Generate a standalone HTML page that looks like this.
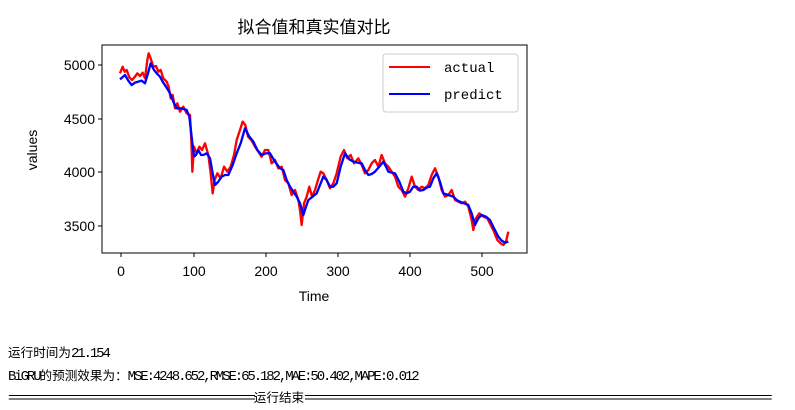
<!DOCTYPE html>
<html><head><meta charset="utf-8"><style>
body{margin:0;background:#fff;width:795px;height:410px;overflow:hidden;position:relative}
.t{position:absolute;left:8px;font-family:"Liberation Mono",monospace;font-size:14px;letter-spacing:-2.1px;white-space:nowrap;color:#000;line-height:16px}
.t b{font-weight:normal;font-family:"Noto Sans CJK SC","WenQuanYi Zen Hei",sans-serif;font-size:12.6px;letter-spacing:0;display:inline-block;width:12.6px;text-align:center}
</style></head><body>
<svg width="795" height="330" style="position:absolute;left:0;top:0" font-family="'Liberation Sans','Noto Sans CJK SC',sans-serif">
<text x="314" y="33" font-size="17" text-anchor="middle">拟合值和真实值对比</text>
<g transform="translate(90,40) scale(0.33333)" fill="none" stroke-linejoin="round">
<polyline stroke="#f00" stroke-width="7" points="90,100 98,80 104,95 110,90 118,112 126,120 135,110 142,100 150,108 158,98 165,115 172,60 176,40 182,55 190,80 198,78 205,95 212,90 220,115 230,125 236,140 242,175 248,165 255,205 262,190 270,215 280,200 290,220 300,225 304,300 307,395 312,320 320,340 328,320 336,330 345,310 355,345 362,400 368,460 374,420 382,400 392,415 402,380 412,395 422,380 432,345 440,300 450,270 458,245 466,255 474,290 484,300 495,320 505,335 515,350 525,330 535,330 545,370 555,360 565,385 575,380 585,420 595,430 605,465 615,450 625,480 630,510 635,555 642,490 650,470 658,440 666,470 675,450 684,420 692,395 700,400 710,420 720,445 730,430 740,400 752,350 762,330 772,355 782,345 792,370 805,355 815,375 825,400 835,390 845,370 855,360 865,380 875,345 885,370 895,380 905,395 915,410 925,440 935,450 945,470 955,445 965,410 975,440 985,450 995,440 1005,445 1015,435 1025,405 1035,385 1045,410 1055,450 1065,470 1075,465 1085,450 1095,480 1105,485 1115,490 1125,485 1135,500 1145,540 1150,570 1158,535 1168,520 1180,530 1192,535 1202,555 1212,575 1222,600 1232,610 1240,615 1248,605 1255,575"/>
<polyline stroke="#00f" stroke-width="7" points="90,118 105,105 115,122 125,135 135,128 145,125 155,122 165,130 174,100 182,70 192,90 200,100 210,110 218,125 228,140 240,160 250,185 260,205 275,205 290,210 298,230 306,300 312,350 318,345 325,330 333,345 340,345 350,340 360,355 368,400 375,435 385,425 395,410 405,405 415,405 428,375 440,340 452,310 465,265 478,290 490,305 502,330 515,345 528,340 540,340 555,365 570,385 580,390 590,420 600,440 610,455 620,470 630,490 640,525 648,500 655,480 668,470 680,460 690,435 700,410 710,420 720,440 730,440 740,430 752,380 765,340 778,358 790,365 803,368 815,370 825,390 835,405 845,402 855,395 868,380 880,365 888,380 895,395 905,398 915,400 928,425 940,455 950,460 960,455 970,440 980,440 990,452 1000,450 1010,443 1020,440 1030,415 1040,400 1050,425 1060,460 1075,465 1090,470 1100,480 1110,485 1122,490 1135,495 1145,520 1155,555 1165,535 1175,525 1188,530 1200,540 1212,565 1225,590 1235,602 1245,608 1255,605"/>
</g>
<rect x="102" y="45" width="425" height="208" fill="none" stroke="#000" stroke-width="1"/>
<g stroke="#000" stroke-width="1">
<line x1="98" y1="65" x2="102" y2="65"/><line x1="98" y1="119" x2="102" y2="119"/><line x1="98" y1="172" x2="102" y2="172"/><line x1="98" y1="226" x2="102" y2="226"/>
<line x1="121" y1="253" x2="121" y2="257"/><line x1="194" y1="253" x2="194" y2="257"/><line x1="266" y1="253" x2="266" y2="257"/><line x1="338" y1="253" x2="338" y2="257"/><line x1="410" y1="253" x2="410" y2="257"/><line x1="482" y1="253" x2="482" y2="257"/>
</g>
<g font-size="14" text-anchor="end"><text x="95" y="70">5000</text><text x="95" y="124">4500</text><text x="95" y="177">4000</text><text x="95" y="231">3500</text></g>
<g font-size="14" text-anchor="middle"><text x="121" y="276">0</text><text x="194" y="276">100</text><text x="266" y="276">200</text><text x="338" y="276">300</text><text x="410" y="276">400</text><text x="482" y="276">500</text></g>
<text x="314" y="301" font-size="14" text-anchor="middle">Time</text>
<text transform="translate(37,150) rotate(-90)" font-size="14" text-anchor="middle">values</text>
<rect x="383" y="54" width="135" height="58" rx="3" fill="#fff" stroke="#ccc"/>
<line x1="389" y1="67" x2="430" y2="67" stroke="#f00" stroke-width="2"/>
<line x1="389" y1="94" x2="430" y2="94" stroke="#00f" stroke-width="2"/>
<text x="444" y="72" font-size="14" font-family="'Liberation Mono',monospace">actual</text>
<text x="444" y="99" font-size="14" font-family="'Liberation Mono',monospace">predict</text>
</svg>
<div class="t" style="top:344px"><b>运</b><b>行</b><b>时</b><b>间</b><b>为</b>21.154</div>
<div class="t" style="top:367px">BiGRU<b>的</b><b>预</b><b>测</b><b>效</b><b>果</b><b>为</b><b>：</b>MSE:4248.652,RMSE:65.182,MAE:50.402,MAPE:0.012</div>
<div class="t" style="top:389px">=======================================<b>运</b><b>行</b><b>结</b><b>束</b>==========================================================================</div>
</body></html>
